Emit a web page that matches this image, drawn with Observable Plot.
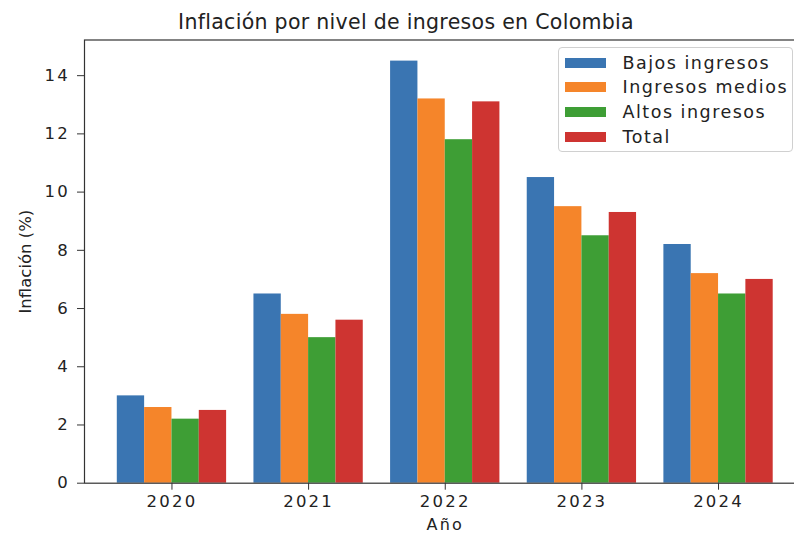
<!DOCTYPE html>
<html>
<head>
<meta charset="utf-8">
<script src="https://cdn.jsdelivr.net/npm/d3@7"></script>
<script src="https://cdn.jsdelivr.net/npm/@observablehq/plot@0.6"></script>
<style>
  html, body { margin: 0; padding: 0; background: #fff; overflow: hidden; }
  #wrap { position: relative; width: 794px; height: 534px; font-family: "DejaVu Sans", sans-serif; color: #222; }
  #title { position: absolute; left: 0; width: 812px; top: 12px; text-align: center; font-size: 20.5px; line-height: 20px; letter-spacing: 0.3px; white-space: nowrap; }
  #legend { position: absolute; left: 558px; top: 47px; width: 235px; height: 105px; box-sizing: border-box; border: 1px solid #d0d0d0; border-radius: 4px; background: rgba(255,255,255,0.85); }
  .row { position: absolute; left: 0; height: 20px; display: flex; align-items: center; font-size: 17.5px; letter-spacing: 1.5px; white-space: nowrap; }
  .sw { width: 41px; height: 10px; margin-left: 6px; margin-right: 16.5px; }
  svg text { letter-spacing: 2.2px; }
  g.ylab text { letter-spacing: 0; }
</style>
</head>
<body>
<div id="wrap">
  <div id="chart"></div>
  <div id="title">Inflación por nivel de ingresos en Colombia</div>
  <div id="legend"></div>
</div>
<script>
const years = ["2020", "2021", "2022", "2023", "2024"];
const series = ["Bajos ingresos", "Ingresos medios", "Altos ingresos", "Total"];
const bajosIngresos = [3.0, 6.5, 14.5, 10.5, 8.2];
const ingresosMedios = [2.6, 5.8, 13.2, 9.5, 7.2];
const altosIngresos = [2.2, 5.0, 11.8, 8.5, 6.5];
const total = [2.5, 5.6, 13.1, 9.3, 7.0];
const yTicks = [0, 2, 4, 6, 8, 10, 12, 14];
const xLabel = "Año";
const yLabel = "Inflación (%)";
const colors = ["#3a75b2", "#f5852a", "#3e9e35", "#ce3431"];

const valuesBySeries = [bajosIngresos, ingresosMedios, altosIngresos, total];
const rows = years.flatMap((year, i) =>
  series.map((s, j) => ({year, yi: i, series: s, si: j, value: valuesBySeries[j][i]}))
);
const barW = 0.2;
const yMax = d3.max(rows, d => d.value) * 1.05;
const xPad = 0.24;

const chart = Plot.plot({
  width: 794,
  height: 534,
  marginLeft: 84,
  marginRight: -11.5,
  marginTop: 39.5,
  marginBottom: 51.3,
  style: {fontFamily: "DejaVu Sans, sans-serif", fontSize: "16.5px", color: "#222", background: "white"},
  x: {domain: [-2 * barW - xPad, years.length - 1 + 2 * barW + xPad]},
  y: {domain: [0, yMax]},
  color: {domain: series, range: colors},
  marks: [
    Plot.rect(rows, {
      x1: d => d.yi + (d.si - 2) * barW,
      x2: d => d.yi + (d.si - 1) * barW,
      y1: 0,
      y2: "value",
      fill: "series"
    }),
    Plot.axisY(yTicks, {
      tickSize: 7, tickPadding: 7.5, fontSize: 16.5, label: null,
      stroke: "#333", fill: "#222"
    }),
    Plot.axisX(years.map((_, i) => i), {
      tickFormat: i => years[i], tickSize: 7, tickPadding: 5, fontSize: 16.5, label: null,
      stroke: "#333", fill: "#222"
    }),
    Plot.text([yLabel], {
      text: d => d, frameAnchor: "left", rotate: -90, dx: -59,
      lineAnchor: "middle", textAnchor: "middle", fontSize: 16.5, fill: "#222", className: "ylab"
    }),
    Plot.text([xLabel], {
      text: d => d, frameAnchor: "bottom", dy: 41.5,
      lineAnchor: "middle", textAnchor: "middle", fontSize: 16, fill: "#222"
    }),
    Plot.frame({stroke: "#333", strokeWidth: 1.2})
  ]
});
document.getElementById("chart").appendChild(chart);

const legend = document.getElementById("legend");
series.forEach((s, j) => {
  const row = document.createElement("div");
  row.className = "row";
  row.style.top = (4.7 + j * 24.6) + "px";
  const sw = document.createElement("div");
  sw.className = "sw";
  sw.style.background = colors[j];
  const label = document.createElement("span");
  label.textContent = s;
  row.appendChild(sw);
  row.appendChild(label);
  legend.appendChild(row);
});
</script>
</body>
</html>
